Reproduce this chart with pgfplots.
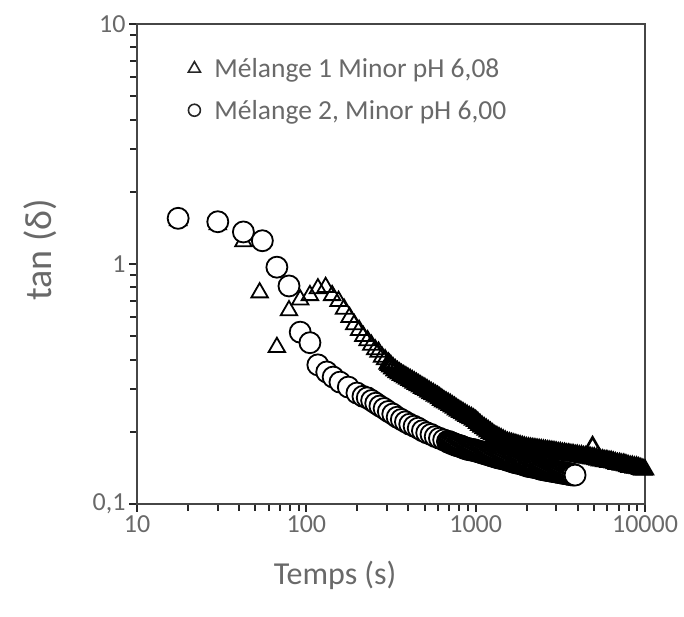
\documentclass[border=0pt]{standalone}
\usepackage{pgfplots}
\pgfplotsset{compat=1.18}
\usepackage{fontspec}
\setmainfont{Carlito}
\definecolor{txt}{RGB}{105,105,105}
\definecolor{axc}{RGB}{70,70,70}
\begin{document}
\begin{tikzpicture}
\path[use as bounding box] (-137pt,-113pt) rectangle (547pt,504pt);
\begin{axis}[
  at={(0,0)}, anchor=south west,
  scale only axis, width=508pt, height=480pt,
  xmode=log, ymode=log,
  xmin=10, xmax=10000, ymin=0.1, ymax=10,
  axis line style={axc, line width=2.2pt},
  tick style={black!85, line width=2pt},
  tick align=outside, tick pos=left,
  major tick length=8pt, minor tick length=7pt,
  xtick={10,100,1000,10000}, xticklabels={10,100,1000,10000},
  ytick={0.1,1,10}, yticklabels={{0,1},1,10},
  minor xtick={20,30,40,50,60,70,80,90,200,300,400,500,600,700,800,900,2000,3000,4000,5000,6000,7000,8000,9000},
  minor ytick={0.2,0.3,0.4,0.5,0.6,0.7,0.8,0.9,2,3,4,5,6,7,8,9},
  ticklabel style={font=\fontsize{26}{30}\selectfont, text=txt},
  xlabel={Temps (s)}, ylabel={tan (δ)},
  xlabel style={font=\fontsize{32}{36}\selectfont, text=txt, at={(axis description cs:0.39,-0.148)}, anchor=center},
  ylabel style={font=\fontsize{38}{42}\selectfont, text=txt, at={(axis description cs:-0.19,0.53)}, anchor=center},
  legend style={at={(axis description cs:0.1007,0.933)}, anchor=north west, draw=none, fill=none,
    font=\fontsize{27.5}{31}\selectfont, text=txt, row sep=17pt, inner sep=0pt,
    /tikz/every odd column/.append style={column sep=12pt}},
  legend cell align=left,
]
\addlegendimage{only marks, mark=triangle, mark size=7pt, mark options={draw=black!85, line width=1.6pt, fill=white}}
\addlegendentry{Mélange 1 Minor pH 6,08}
\addlegendimage{only marks, mark=*, mark size=6pt, mark options={draw=black!85, line width=1.6pt, fill=white}}
\addlegendentry{Mélange 2, Minor pH 6,00}

\addplot[forget plot, only marks, mark=triangle, mark size=9.5pt, mark options={draw=black, line width=1.8pt, fill=white}] coordinates {
(17.5,1.52) (30,1.46) (42.5,1.24) (53,0.76) (67,0.45) (79,0.64) (92,0.71) (105,0.74) (117,0.79) (130,0.80)
(142,0.74) (155,0.70) (167,0.65) (180,0.60) (192,0.56) (205,0.53) (217,0.50) (230,0.48) (242,0.46) (255,0.44)
(267,0.43) (280,0.41) (292,0.40)
};
\addplot[forget plot, only marks, mark=triangle, mark size=9.5pt, mark options={draw=black, line width=2.6pt, fill=white}] coordinates {
(305,0.385) (310,0.380) (316,0.375) (325,0.368) (335,0.361) (345,0.355) (355,0.350)
(365,0.345) (376,0.341) (387,0.337) (398,0.333) (410,0.329) (422,0.325) (434,0.321) (447,0.317) (460,0.313) (473,0.309)
(487,0.305) (501,0.302) (516,0.298) (531,0.294) (546,0.290) (562,0.287) (579,0.283) (596,0.280) (613,0.276) (631,0.272)
(649,0.268) (668,0.265) (688,0.262) (708,0.259) (729,0.255) (750,0.252) (772,0.248) (794,0.245) (817,0.242) (841,0.239)
(866,0.236) (891,0.233) (917,0.230) (944,0.228) (972,0.225) (1000,0.222) (1029,0.218) (1059,0.214) (1090,0.210) (1122,0.207)
(1155,0.204) (1189,0.201) (1223,0.198) (1259,0.195) (1296,0.192) (1334,0.190) (1373,0.188) (1413,0.186) (1454,0.184) (1496,0.182)
(1540,0.180) (1585,0.179) (1631,0.178) (1679,0.177) (1728,0.176) (1778,0.175) (1830,0.174) (1884,0.173) (1939,0.172) (1995,0.171)
(2053,0.1705) (2113,0.170) (2175,0.1695) (2239,0.169) (2304,0.1685) (2371,0.168) (2440,0.1675) (2512,0.167) (2585,0.1665) (2661,0.166)
(2738,0.1655) (2818,0.165) (2900,0.1645) (2985,0.164) (3072,0.163) (3162,0.163) (3255,0.162) (3350,0.162) (3448,0.161) (3548,0.161)
(3652,0.160) (3758,0.160) (3868,0.159) (3981,0.159) (4097,0.158) (4217,0.158) (4340,0.157) (4467,0.157) (4598,0.156) (4732,0.156)
(4870,0.155) (4900,0.173) (5012,0.155) (5158,0.154) (5309,0.153) (5464,0.152) (5623,0.152) (5788,0.151) (5957,0.151) (6131,0.150)
(6310,0.150) (6494,0.149) (6683,0.148) (6878,0.147) (7079,0.147) (7286,0.146) (7499,0.146) (7718,0.145) (7943,0.144) (8175,0.143)
(8414,0.143) (8660,0.142) (8913,0.142) (9173,0.141) (9441,0.140) (9716,0.139)
};
\addplot[forget plot, only marks, mark=triangle, mark size=9.5pt, mark options={draw=black, line width=1.8pt, fill=white}] coordinates {(10000,0.139)};

\addplot[forget plot, only marks, mark=*, mark size=10.5pt, mark options={draw=black, line width=1.8pt, fill=white}] coordinates {
(17.5,1.55) (30,1.50) (42.5,1.36) (55,1.25) (67,0.97) (79,0.81) (92,0.52) (105,0.47) (117,0.38) (132,0.355)
(144,0.338) (158,0.322) (177,0.307) (199,0.290) (216,0.281) (229,0.277) (243,0.270) (257,0.263) (272,0.256) (288,0.250)
(305,0.243) (324,0.237) (344,0.230) (364,0.225) (385,0.220) (408,0.215) (433,0.211) (458,0.207) (485,0.202) (514,0.198)
(545,0.195) (577,0.191) (611,0.188) (647,0.185)
};
\addplot[forget plot, only marks, mark=*, mark size=10.5pt, mark options={draw=black, line width=2.6pt, fill=white}] coordinates {
(685,0.182) (705,0.1805) (726,0.179) (747,0.1775) (769,0.176) (792,0.175)
(815,0.174) (839,0.1725) (863,0.171) (888,0.170) (914,0.169) (941,0.1685) (968,0.168) (997,0.167) (1026,0.166) (1056,0.165)
(1086,0.164) (1118,0.163) (1151,0.162) (1185,0.161) (1219,0.160) (1254,0.159) (1291,0.158) (1329,0.157) (1368,0.156) (1408,0.1555)
(1449,0.155) (1491,0.154) (1535,0.153) (1580,0.152) (1626,0.151) (1673,0.150) (1722,0.149) (1772,0.1485) (1824,0.148) (1877,0.147)
(1932,0.146) (1988,0.145) (2046,0.144) (2106,0.1435) (2168,0.143) (2231,0.1425) (2296,0.142) (2363,0.141) (2432,0.140) (2503,0.1395)
(2576,0.139) (2651,0.1385) (2729,0.138) (2809,0.1375) (2891,0.137) (2975,0.1365) (3062,0.136) (3151,0.1355) (3243,0.135) (3338,0.1345)
(3436,0.134) (3536,0.1335) (3639,0.133) (3750,0.1325)
};
\addplot[forget plot, only marks, mark=*, mark size=10.5pt, mark options={draw=black, line width=1.8pt, fill=white}] coordinates {(3864,0.132)};
\end{axis}
\end{tikzpicture}
\end{document}
